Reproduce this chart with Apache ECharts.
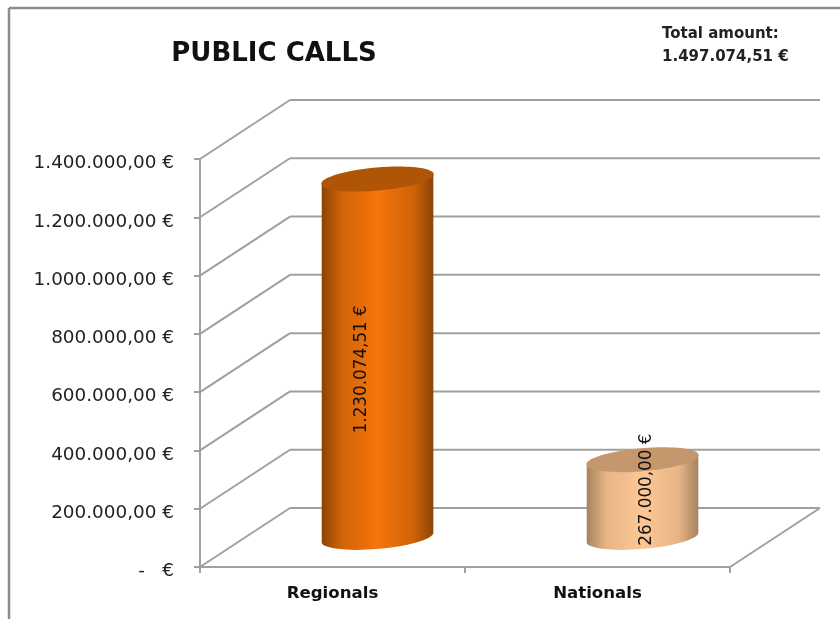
<!DOCTYPE html>
<html><head><meta charset="utf-8">
<style>html,body{margin:0;padding:0;background:#fff}#c{width:840px;height:619px}</style>
<script src="https://cdn.jsdelivr.net/npm/echarts@6/dist/echarts.min.js"></script>
</head><body><div id="c"></div>
<script>
const categories = ['Regionals', 'Nationals'];
const values = [1230074.51, 267000.00];
const valueLabels = ['1.230.074,51 €', '267.000,00 €'];
const yTicks = [0, 200000, 400000, 600000, 800000, 1000000, 1200000, 1400000];
const yTickLabels = ['-   €', '200.000,00 €', '400.000,00 €', '600.000,00 €', '800.000,00 €', '1.000.000,00 €', '1.200.000,00 €', '1.400.000,00 €'];
const titleText = 'PUBLIC CALLS';
const totalLines = ['Total amount:', '1.497.074,51 €'];

const DX = 90, DY = -59;
const AXIS = '#a0a0a0';
const palettes = [
  {edge: '#8a4405', shoulder: '#d06308', mid: '#f5750a', top: '#b05406'},
  {edge: '#a5835f', shoulder: '#e8b587', mid: '#fdc795', top: '#c5976c'}
];
const labelShift = [[-16, 11], [4, -9]];
const FONT = '"DejaVu Sans", sans-serif';

function wall(params, api) {
  const v = api.value(0);
  const cs = params.coordSys;
  const y = api.coord([0, v])[1];
  const x0 = cs.x, x1 = cs.x + cs.width;
  const style = {stroke: AXIS, lineWidth: 2, fill: null};
  const kids = [
    {type: 'line', shape: {x1: x0, y1: y, x2: x0 + DX, y2: y + DY}, style},
    {type: 'line', shape: {x1: x0 + DX, y1: y + DY, x2: x1 + DX, y2: y + DY}, style}
  ];
  if (v === 0) kids.push({type: 'line', shape: {x1: x1, y1: y, x2: x1 + DX, y2: y + DY}, style});
  return {type: 'group', children: kids};
}

function cylinder(params, api) {
  const i = api.value(0);
  const top = api.coord([i, api.value(1)]);
  const base = api.coord([i, 0]);
  const cx = top[0] + DX / 2, ty = top[1] + DY / 2, by = base[1] + DY / 2;
  const r = 56, ry = 11.5, tilt = 4.5, rot = 5;
  const p = palettes[i];
  const fill = {type: 'linear', x: 0, y: 0, x2: 1, y2: 0, colorStops: [
    {offset: 0, color: p.edge}, {offset: 0.18, color: p.shoulder},
    {offset: 0.5, color: p.mid}, {offset: 0.82, color: p.shoulder}, {offset: 1, color: p.edge}]};
  const bodyPath = 'M' + (cx - r) + ' ' + (ty + tilt) + ' L' + (cx - r) + ' ' + (by + tilt) +
    ' A' + r + ' ' + ry + ' -' + rot + ' 0 0 ' + (cx + r) + ' ' + (by - tilt) +
    ' L' + (cx + r) + ' ' + (ty - tilt) + ' Z';
  return {type: 'group', children: [
    {type: 'path', shape: {pathData: bodyPath, x: cx - r, y: ty - tilt, width: 2 * r, height: by - ty + ry + tilt, layout: 'cover'}, style: {fill}},
    {type: 'ellipse', shape: {cx: 0, cy: 0, rx: r + 0.4, ry}, x: cx, y: ty, rotation: rot * Math.PI / 180, style: {fill: p.top}},
    {type: 'text', x: cx + labelShift[i][0], y: (ty + by) / 2 + labelShift[i][1], rotation: Math.PI / 2,
      style: {text: valueLabels[i], fill: '#111', font: '16.8px ' + FONT, align: 'center', verticalAlign: 'middle'}}
  ]};
}

const chart = echarts.init(document.getElementById('c'), null, {renderer: 'canvas'});
chart.setOption({
  animation: false,
  backgroundColor: '#fff',
  grid: {left: 200, top: 159, width: 530, height: 408, containLabel: false},
  xAxis: {
    type: 'category', data: categories, boundaryGap: true,
    axisLine: {lineStyle: {color: AXIS, width: 2}},
    axisTick: {show: true, alignWithLabel: false, length: 6, lineStyle: {color: AXIS, width: 2}},
    axisLabel: {color: '#111', fontFamily: FONT, fontSize: 16.6, fontWeight: 'bold', margin: 18}
  },
  yAxis: {
    type: 'value', min: 0, max: 1400000, interval: 200000,
    axisLine: {show: true, lineStyle: {color: AXIS, width: 2}},
    axisTick: {show: true, length: 6, lineStyle: {color: AXIS, width: 2}},
    splitLine: {show: false},
    axisLabel: {color: '#222', fontFamily: FONT, fontSize: 18.4, margin: 26, align: 'right', verticalAlign: 'top', lineHeight: 9,
      formatter: (v) => yTickLabels[yTicks.indexOf(v)]}
  },
  graphic: [
    {type: 'line', shape: {x1: 9, y1: 8, x2: 840, y2: 8}, style: {stroke: '#8c8c8c', lineWidth: 2.5}},
    {type: 'line', shape: {x1: 9, y1: 8, x2: 9, y2: 619}, style: {stroke: '#8c8c8c', lineWidth: 2.5}},
    {type: 'text', x: 274, y: 54, style: {text: titleText, font: 'bold 26px ' + FONT, fill: '#111', align: 'center', verticalAlign: 'middle'}},
    {type: 'text', x: 662, y: 34, style: {text: totalLines[0], font: 'bold 15px ' + FONT, fill: '#222', verticalAlign: 'middle'}},
    {type: 'text', x: 662, y: 57, style: {text: totalLines[1], font: 'bold 15px ' + FONT, fill: '#222', verticalAlign: 'middle'}}
  ],
  series: [
    {type: 'custom', renderItem: wall, data: yTicks.map(v => [v]), encode: {y: 0}, clip: false, z: 1, silent: true},
    {type: 'custom', renderItem: cylinder, data: values.map((v, i) => [i, v]), encode: {x: 0, y: 1}, clip: false, z: 3, silent: true}
  ]
});
</script></body></html>
